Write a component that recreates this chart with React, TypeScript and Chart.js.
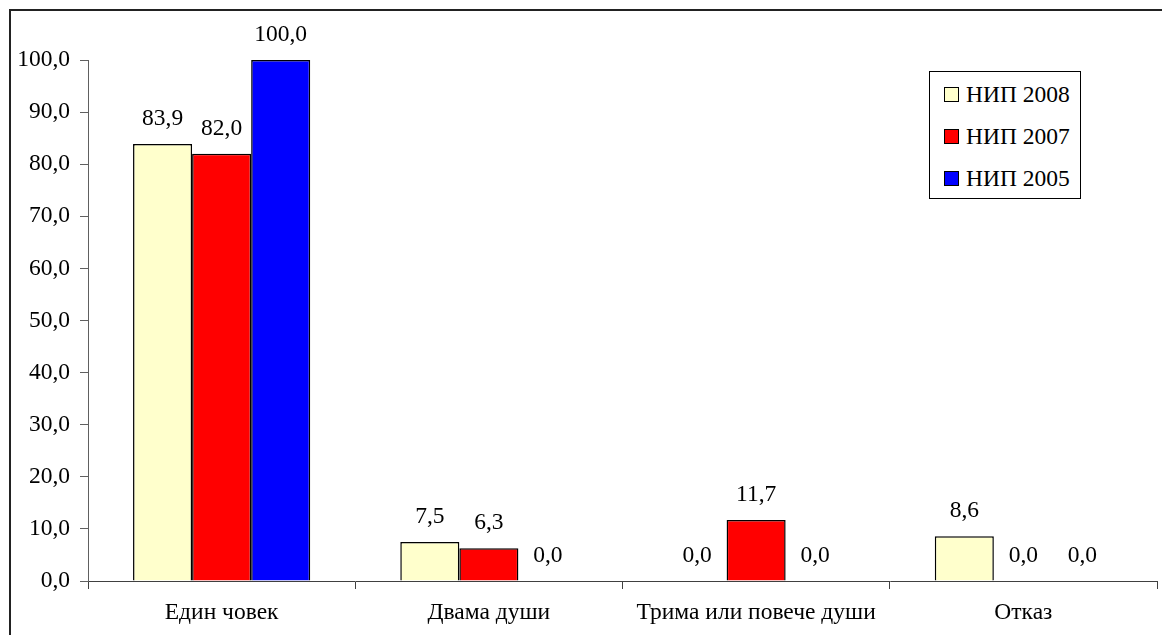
import React, { useEffect, useRef } from "react";
import { Chart, registerables } from "chart.js";

Chart.register(...registerables);

const categories = ["Един човек", "Двама души", "Трима или повече души", "Отказ"];
const seriesLabels = ["НИП 2008", "НИП 2007", "НИП 2005"];
const nip2008 = [83.9, 7.5, 0.0, 8.6];
const nip2007 = [82.0, 6.3, 11.7, 0.0];
const nip2005 = [100.0, 0.0, 0.0, 0.0];
const seriesColors = ["#FFFFCC", "#FF0000", "#0000FF"];

const FONT = "'Liberation Serif', 'Times New Roman', serif";
const FS = 23.5;
const fmt = (v: number) => v.toFixed(1).replace(".", ",");

const valueLabels = {
  id: "valueLabels",
  afterDatasetsDraw(chart: any) {
    const ctx = chart.ctx;
    ctx.save();
    ctx.font = `${FS}px ${FONT}`;
    ctx.fillStyle = "#000";
    ctx.textAlign = "center";
    ctx.textBaseline = "middle";
    chart.data.datasets.forEach((ds: any, i: number) => {
      const meta = chart.getDatasetMeta(i);
      meta.data.forEach((bar: any, j: number) => {
        const v = ds.data[j];
        ctx.fillText(fmt(v), bar.x, bar.y - 25);
      });
    });
    ctx.restore();
  },
};

export default function App() {
  const ref = useRef<HTMLCanvasElement>(null);
  useEffect(() => {
    if (!ref.current) return;
    const series = [nip2008, nip2007, nip2005];
    const chart = new Chart(ref.current, {
      type: "bar",
      data: {
        labels: categories,
        datasets: series.map((d, i) => ({
          label: seriesLabels[i],
          data: d,
          backgroundColor: seriesColors[i],
          borderColor: "#000",
          borderWidth: 1.5,
          borderSkipped: "bottom",
          categoryPercentage: 0.663,
          barPercentage: 1,
        })),
      },
      options: {
        responsive: false,
        animation: false,
        layout: { padding: { left: 0, top: 60, right: 5, bottom: 0 } },
        plugins: { legend: { display: false }, tooltip: { enabled: false } },
        scales: {
          x: {
            grid: { drawOnChartArea: false, drawTicks: true, tickLength: 8, color: "#404040", offset: true },
            border: { color: "#404040", width: 1 },
            ticks: { font: { family: FONT, size: FS }, color: "#000", padding: 10, maxRotation: 0, autoSkip: false },
            afterFit: (s: any) => { s.height = 54; },
          },
          y: {
            min: 0,
            max: 100,
            grid: { drawOnChartArea: false, drawTicks: true, tickLength: 8, color: "#606060" },
            border: { color: "#606060", width: 1 },
            ticks: {
              stepSize: 10,
              font: { family: FONT, size: FS },
              color: "#000",
              padding: 10,
              callback: (v: any) => fmt(Number(v)),
            },
            afterFit: (s: any) => { s.width = 88; },
          },
        },
      },
      plugins: [valueLabels],
    } as any);
    return () => chart.destroy();
  }, []);

  return (
    <div style={{ position: "fixed", left: 0, top: 0, width: 1162, height: 635, overflow: "hidden", background: "#fff" }}>
      <div style={{ position: "absolute", left: 9, top: 9, width: 1200, height: 700, border: "2px solid #222", boxSizing: "border-box" }} />
      <canvas ref={ref} width={1162} height={635} style={{ position: "absolute", left: 0, top: 0 }} />
      <div style={{ position: "absolute", left: 929, top: 71, width: 152, height: 128, border: "1px solid #000", boxSizing: "border-box", background: "#fff", fontFamily: FONT, fontSize: FS, color: "#000" }}>
        {seriesLabels.map((l, i) => (
          <div key={l} style={{ position: "absolute", left: 14, top: 8 + i * 42, height: 28, display: "flex", alignItems: "center", whiteSpace: "nowrap" }}>
            <span style={{ display: "inline-block", width: 13, height: 13, background: seriesColors[i], border: "1px solid #000", marginRight: 7 }} />
            <span>{l}</span>
          </div>
        ))}
      </div>
    </div>
  );
}
